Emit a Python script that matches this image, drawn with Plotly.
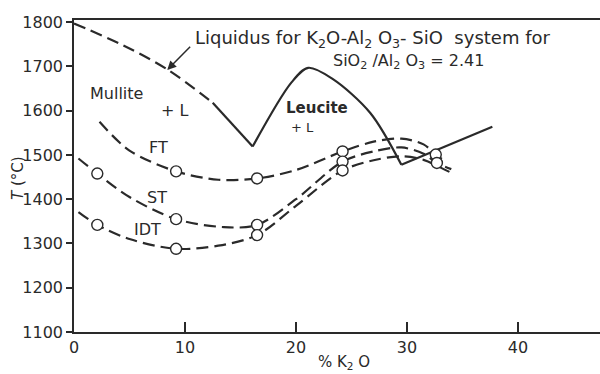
import plotly.graph_objects as go

# ---- data ----
liq_dash_x = [0, 4.5, 8.5, 12.5]
liq_dash_y = [1797, 1747, 1692, 1618]
liq_v_x = [12.5, 16.1]
liq_v_y = [1618, 1519]
liq_hump_x = [16.1, 19.6, 21.1, 23.3, 26.7, 29.5]
liq_hump_y = [1519, 1664, 1697, 1672, 1595, 1478]
liq_tail_x = [29.5, 37.7]
liq_tail_y = [1478, 1564]

ft_x = [2.3, 5.0, 9.2, 13.0, 16.5, 20.0, 24.2, 27.0, 29.5, 31.5, 32.6, 33.5]
ft_y = [1575, 1510, 1463, 1444, 1447, 1466, 1508, 1530, 1537, 1524, 1501, 1485]
ft_mx = [9.2, 16.5, 24.2, 32.6]
ft_my = [1463, 1447, 1508, 1501]

st_x = [0.4, 2.1, 5.0, 9.2, 13.5, 16.5, 20.0, 24.2, 27.0, 29.5, 31.5, 32.7, 34.0]
st_y = [1492, 1458, 1405, 1355, 1337, 1342, 1400, 1485, 1508, 1517, 1503, 1482, 1468]
st_mx = [2.1, 9.2, 16.5, 24.2, 32.7]
st_my = [1458, 1355, 1342, 1485, 1482]

idt_x = [0.4, 2.1, 5.0, 9.2, 13.0, 16.5, 20.0, 24.2, 27.0, 29.5, 31.5, 33.0, 34.3]
idt_y = [1371, 1342, 1310, 1288, 1295, 1319, 1385, 1465, 1488, 1497, 1489, 1472, 1456]
idt_mx = [2.1, 9.2, 16.5, 24.2]
idt_my = [1342, 1288, 1319, 1465]

x_ticks = [0, 10, 20, 30, 40]
y_ticks = [1100, 1200, 1300, 1400, 1500, 1600, 1700, 1800]

INK = "#2a2a2a"
FONT = "DejaVu Sans"
DASH = "12px,6px"

# plot area in pixels (for placing the axis titles)
L, R, T, B = 74, 0, 20, 42
W, H = 600, 374
PW, PH = W - L - R, H - T - B

fig = go.Figure()

def line(x, y, dash=None, shape="spline"):
    fig.add_trace(go.Scatter(x=x, y=y, mode="lines",
                             line=dict(color=INK, width=2.2, dash=dash, shape=shape, smoothing=0.9),
                             hoverinfo="skip"))

def marks(x, y):
    fig.add_trace(go.Scatter(x=x, y=y, mode="markers",
                             marker=dict(symbol="circle", size=11, color="white",
                                         line=dict(color=INK, width=1.4)),
                             hoverinfo="skip"))

line(liq_dash_x, liq_dash_y, dash=DASH)
line(liq_v_x, liq_v_y, shape="linear")
line(liq_hump_x, liq_hump_y)
line(liq_tail_x, liq_tail_y, shape="linear")
line(ft_x, ft_y, dash=DASH)
line(st_x, st_y, dash=DASH)
line(idt_x, idt_y, dash=DASH)
marks(ft_mx, ft_my)
marks(st_mx, st_my)
marks(idt_mx, idt_my)

def txt(x, y, s, size=16, anchor="center", **kw):
    fig.add_annotation(x=x, y=y, text=s, showarrow=False, xanchor=anchor, yanchor="middle",
                       font=dict(family=FONT, size=size, color=INK), **kw)

txt(10.7, 1763, "Liquidus for K<sub>2</sub>O-Al<sub>2</sub> O<sub>3</sub>- SiO  system for",
    size=18, anchor="left")
txt(23.2, 1712, "SiO<sub>2</sub> /Al<sub>2</sub> O<sub>3</sub> = 2.41", size=16, anchor="left")
txt(3.8, 1640, "Mullite")
txt(9.1, 1600, "+ L")
txt(21.9, 1607, "<b>Leucite</b>", size=15)
txt(20.6, 1563, "+ L", size=13)
txt(7.6, 1516, "FT")
txt(7.5, 1405, "ST")
txt(6.6, 1332, "IDT")

# pointer from label to liquidus
fig.add_annotation(x=8.4, y=1692, ax=10.6, ay=1748, xref="x", yref="y",
                   axref="x", ayref="y", text="", showarrow=True,
                   arrowhead=2, arrowsize=1.2, arrowwidth=1.5, arrowcolor=INK)

# axis titles (positions in pixels converted to paper coords)
fig.add_annotation(x=(18 - L) / PW, y=(H - B - 178) / PH, xref="paper", yref="paper",
                   xanchor="center", yanchor="middle",
                   text="<i>T</i> (°C)", showarrow=False, textangle=-90,
                   font=dict(family=FONT, size=15, color=INK))
fig.add_annotation(x=(344 - L) / PW, y=(H - B - 362) / PH, xref="paper", yref="paper",
                   xanchor="center", yanchor="middle",
                   text="% K<sub>2</sub> O", showarrow=False,
                   font=dict(family=FONT, size=15, color=INK))

fig.update_layout(
    width=W, height=H,
    margin=dict(l=L, r=R, t=T, b=B),
    paper_bgcolor="white", plot_bgcolor="white",
    showlegend=False,
    xaxis=dict(range=[0, 47.4], tickvals=x_ticks, ticks="inside", ticklen=10,
               tickwidth=1.5, tickcolor=INK, showline=True, linecolor=INK,
               linewidth=1.5, mirror=True, showgrid=False, zeroline=False,
               tickfont=dict(family=FONT, size=16, color=INK)),
    yaxis=dict(range=[1100, 1805], tickvals=y_ticks, ticks="outside", ticklen=6,
               tickwidth=1.5, tickcolor=INK, showline=True, linecolor=INK,
               linewidth=1.5, showgrid=False, zeroline=False,
               tickfont=dict(family=FONT, size=16, color=INK)),
)

fig.write_html("out.html")
